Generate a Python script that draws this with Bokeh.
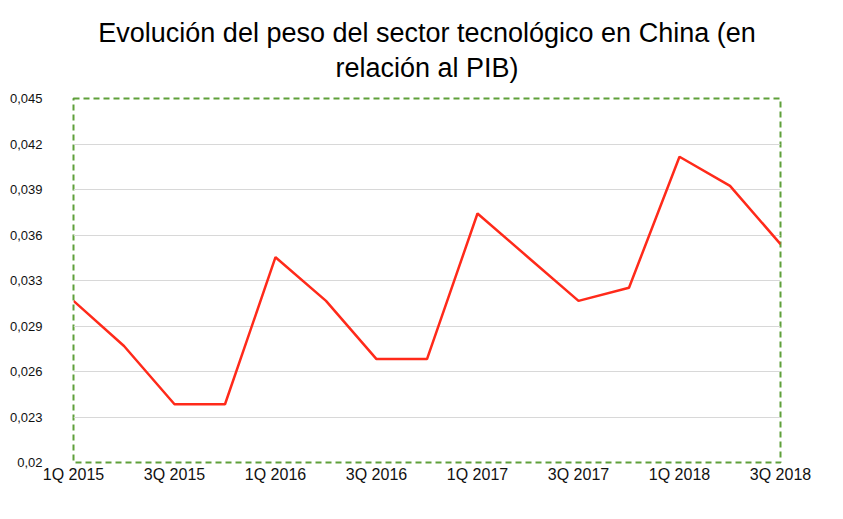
from bokeh.plotting import figure
from bokeh.models import FixedTicker, Range1d, Title
from bokeh.embed import file_html
from bokeh.resources import INLINE

quarters = ["1Q 2015", "2Q 2015", "3Q 2015", "4Q 2015",
            "1Q 2016", "2Q 2016", "3Q 2016", "4Q 2016",
            "1Q 2017", "2Q 2017", "3Q 2017", "4Q 2017",
            "1Q 2018", "2Q 2018", "3Q 2018"]
peso = [0.0311, 0.0280, 0.0240, 0.0240,
        0.0341, 0.0311, 0.0271, 0.0271,
        0.0371, 0.0341, 0.0311, 0.0320,
        0.0410, 0.0390, 0.0350]
y_ticks = [0.02, 0.023125, 0.02625, 0.029375, 0.0325, 0.035625, 0.03875, 0.041875, 0.045]
y_labels = ["0,02", "0,023", "0,026", "0,029", "0,033", "0,036", "0,039", "0,042", "0,045"]
title_lines = ["Evolución del peso del sector tecnológico en China (en", "relación al PIB)"]

FONT = "Liberation Sans"
xs = list(range(len(quarters)))

p = figure(width=840, height=515, output_backend="svg", toolbar_location=None,
           x_range=Range1d(0, len(quarters) - 1), y_range=Range1d(0.02, 0.045),
           min_border_left=73, min_border_right=60, min_border_top=98, min_border_bottom=53)

# white spacer between title and plot frame
p.add_layout(Title(text=".", align="center", text_font=FONT, text_font_size="10px",
                   text_color="#ffffff", standoff=4), "above")
p.add_layout(Title(text=title_lines[1], align="center", text_font=FONT,
                   text_font_size="27px", text_font_style="normal", text_color="#000000",
                   standoff=4), "above")
p.add_layout(Title(text=title_lines[0], align="center",
                   text_font=FONT, text_font_size="27px", text_font_style="normal",
                   text_color="#000000", standoff=2), "above")

p.line(xs, peso, line_color="#ff2a1a", line_width=2.5)

p.outline_line_color = "#5fa03a"
p.outline_line_width = 2
p.outline_line_dash = "6 4"

p.xgrid.visible = False
p.ygrid.ticker = FixedTicker(ticks=y_ticks)
p.ygrid.grid_line_color = "#d8d8d8"
p.ygrid.grid_line_width = 1

p.xaxis.ticker = FixedTicker(ticks=xs[::2])
p.xaxis.major_label_overrides = {i: quarters[i] for i in xs[::2]}
p.yaxis.ticker = FixedTicker(ticks=y_ticks)
p.yaxis.major_label_overrides = {t: l for t, l in zip(y_ticks, y_labels)}

for ax in (p.xaxis, p.yaxis):
    ax.axis_line_color = None
    ax.major_tick_line_color = None
    ax.minor_tick_line_color = None
    ax.major_label_text_font = FONT
    ax.major_label_text_color = "#111111"

p.xaxis.major_label_text_font_size = "16px"
p.xaxis.major_label_standoff = -3
p.yaxis.major_label_text_font_size = "13px"
p.yaxis.major_label_standoff = 25

p.background_fill_color = "white"
p.border_fill_color = "white"

open("out.html", "w").write(file_html(p, INLINE))
